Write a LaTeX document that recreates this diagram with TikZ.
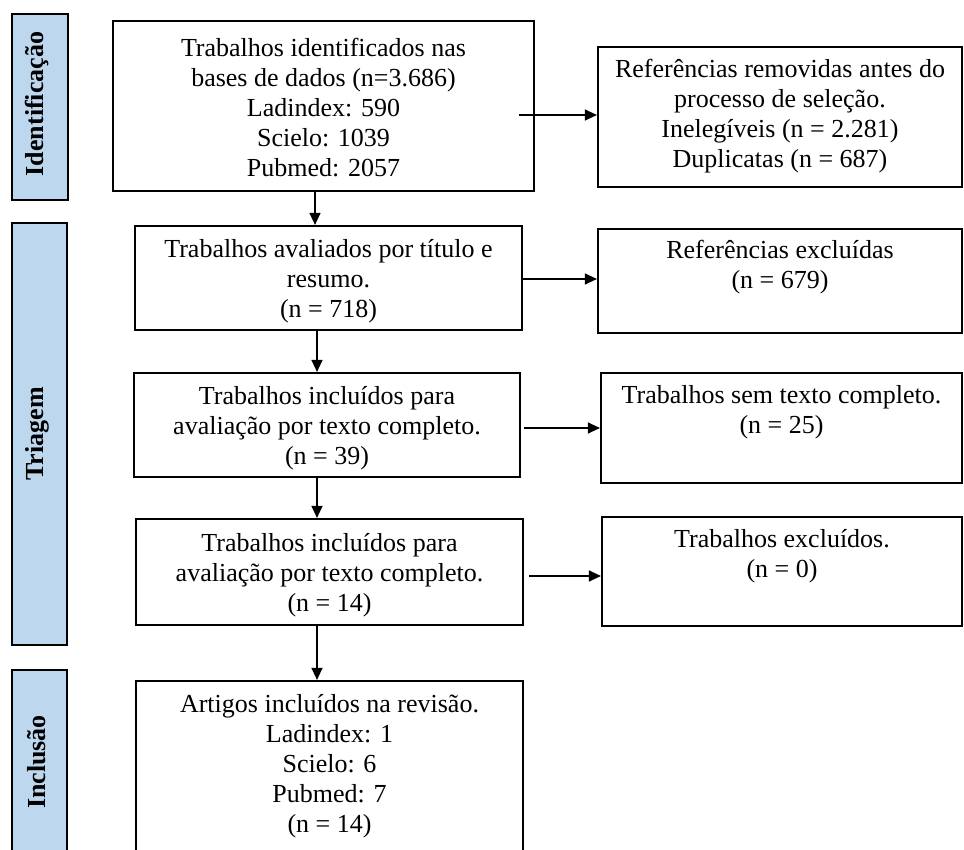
\documentclass[tikz,border=0pt]{standalone}
\usepackage{fontspec}
\setmainfont{Liberation Serif}
\usetikzlibrary{arrows.meta,calc}
\definecolor{sidefill}{RGB}{189,215,238}
\begin{document}
\begin{tikzpicture}[x=1pt,y=-1pt,
  box/.style={draw=black, line width=2.2pt, inner sep=0pt, fill=white},
  side/.style={draw=black, line width=2.2pt, inner sep=0pt, fill=sidefill},
  txt/.style={inner sep=0pt, align=center, font=\fontsize{26}{30}\selectfont},
  sidetxt/.style={inner sep=0pt, rotate=90, font=\fontsize{26}{30}\selectfont\bfseries},
  arr/.style={line width=1.3pt, -{Triangle[length=12pt,width=11pt]}}]
\useasboundingbox (0,0) rectangle (964,850);
\clip (0,0) rectangle (964,850);
% side boxes
\node[side, minimum width=56pt, minimum height=186pt] (s1) at (40,107) {};
\node[sidetxt] (s1t) at (37,104) {Identificação};
\node[side, minimum width=55pt, minimum height=422pt] (s2) at (39.5,434) {};
\node[sidetxt] (s2t) at (37,434) {Triagem};
\node[side, minimum width=55pt, minimum height=186pt] (s3) at (39.5,763) {};
\node[sidetxt] (s3t) at (37,762) {Inclusão};
% main column
\node[box, minimum width=421pt, minimum height=170pt] (b1) at (323.5,106) {};
\node[txt] (b1t) at (323.5,108) {Trabalhos identificados nas\\bases de dados (n=3.686)\\Ladindex: 590\\Scielo: 1039\\Pubmed: 2057};
\node[box, minimum width=387pt, minimum height=104pt] (b2) at (328.5,278) {};
\node[txt] (b2t) at (328.5,281) {Trabalhos avaliados por título e\\resumo.\\(n = 718)};
\node[box, minimum width=386pt, minimum height=104pt] (b3) at (327,425) {};
\node[txt] (b3t) at (327,428) {Trabalhos incluídos para\\avaliação por texto completo.\\(n = 39)};
\node[box, minimum width=387pt, minimum height=106pt] (b4) at (329.5,572) {};
\node[txt] (b4t) at (329.5,575) {Trabalhos incluídos para\\avaliação por texto completo.\\(n = 14)};
\node[box, minimum width=387pt, minimum height=199pt] (b5) at (329.5,780.5) {};
\node[txt, anchor=north] (b5t) at ([yshift=-14pt]b5.north) {Artigos incluídos na revisão.\\Ladindex: 1\\Scielo: 6\\Pubmed: 7\\(n = 14)};
% right column
\node[box, minimum width=364pt, minimum height=140pt] (r1) at (780,117) {};
\node[txt] (r1t) at (780,116) {Referências removidas antes do\\processo de seleção.\\Inelegíveis (n = 2.281)\\Duplicatas (n = 687)};
\node[box, minimum width=364pt, minimum height=104pt] (r2) at (780,281) {};
\node[txt, anchor=north] (r2t) at ([yshift=-12pt]r2.north) {Referências excluídas\\(n = 679)};
\node[box, minimum width=361pt, minimum height=110pt] (r3) at (781.5,428) {};
\node[txt, anchor=north] (r3t) at ([yshift=-13pt]r3.north) {Trabalhos sem texto completo.\\(n = 25)};
\node[box, minimum width=360pt, minimum height=109pt] (r4) at (782,571.5) {};
\node[txt, anchor=north] (r4t) at ([yshift=-13pt]r4.north) {Trabalhos excluídos.\\(n = 0)};
% connectors
\coordinate (v1) at (315,0);
\coordinate (v2) at (317,0);
\draw[arr] (b1.south -| v1) -- (b2.north -| v1);
\draw[arr] (b2.south -| v2) -- (b3.north -| v2);
\draw[arr] (b3.south -| v2) -- (b4.north -| v2);
\draw[arr] (b4.south -| v2) -- (b5.north -| v2);
\draw[arr] ([xshift=-16pt,yshift=-9pt]b1.east) -- ([yshift=-9pt]b1.east -| r1.west);
\draw[arr] ([xshift=-2pt,yshift=-1pt]b2.east) -- ([yshift=-1pt]b2.east -| r2.west);
\draw[arr] ([xshift=3pt,yshift=-3pt]b3.east) -- ([yshift=-3pt]b3.east -| r3.west);
\draw[arr] ([xshift=5pt,yshift=-4pt]b4.east) -- ([yshift=-4pt]b4.east -| r4.west);
\end{tikzpicture}
\end{document}
